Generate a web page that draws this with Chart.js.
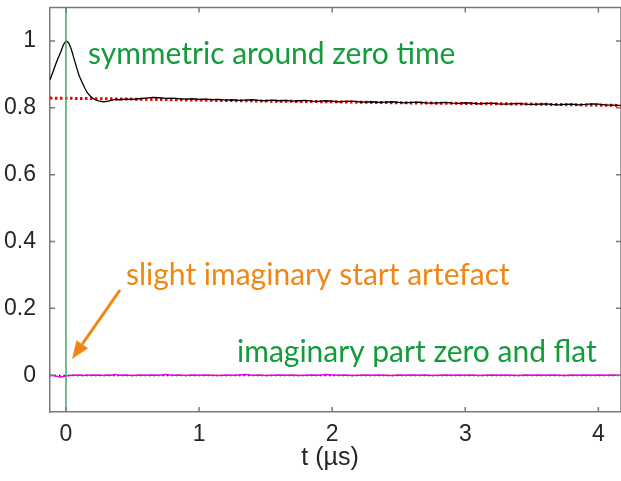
<!DOCTYPE html>
<html>
<head>
<meta charset="utf-8">
<script src="https://cdn.jsdelivr.net/npm/chart.js@4.4.1/dist/chart.umd.min.js"></script>
<style>
  html, body { margin: 0; padding: 0; background: #fff; }
  #wrap { width: 621px; height: 481px; }
</style>
</head>
<body>
<div id="wrap"><canvas id="chart" width="621" height="481"></canvas></div>
<script>
// time axis (µs) shared by the real and imaginary traces
const timeUs = [
    -0.12, -0.10, -0.08, -0.06, -0.04, -0.02, 0, 0.02, 0.04, 0.06, 0.08, 0.10, 0.12, 0.14, 0.16, 0.18,
    0.20, 0.22, 0.25, 0.28, 0.31, 0.34, 0.37, 0.40, 0.45, 0.50, 0.55, 0.60, 0.65, 0.70, 0.75, 0.80,
    0.85, 0.90, 0.95, 1.00, 1.05, 1.10, 1.15, 1.20, 1.25, 1.30, 1.35, 1.40, 1.45, 1.50, 1.55, 1.60,
    1.65, 1.70, 1.75, 1.80, 1.85, 1.90, 1.95, 2.00, 2.05, 2.10, 2.15, 2.20, 2.25, 2.30, 2.35, 2.40,
    2.45, 2.50, 2.55, 2.60, 2.65, 2.70, 2.75, 2.80, 2.85, 2.90, 2.95, 3.00, 3.05, 3.10, 3.15, 3.20,
    3.25, 3.30, 3.35, 3.40, 3.45, 3.50, 3.55, 3.60, 3.65, 3.70, 3.75, 3.80, 3.85, 3.90, 3.95, 4.00,
    4.05, 4.10, 4.15, 4.17
];

// real part (black)
const realPart = [
    0.884, 0.905, 0.927, 0.948, 0.966, 0.988, 1.000, 0.995, 0.975, 0.948, 0.920, 0.895, 0.877, 0.860, 0.845, 0.836,
    0.829, 0.824, 0.820, 0.818, 0.819, 0.822, 0.825, 0.824, 0.826, 0.825, 0.827, 0.829, 0.831, 0.830, 0.828, 0.829,
    0.827, 0.826, 0.827, 0.825, 0.826, 0.824, 0.825, 0.823, 0.824, 0.822, 0.823, 0.824, 0.822, 0.821, 0.823, 0.821,
    0.822, 0.820, 0.821, 0.822, 0.820, 0.819, 0.821, 0.820, 0.818, 0.819, 0.820, 0.818, 0.817, 0.818, 0.816, 0.817,
    0.818, 0.816, 0.815, 0.816, 0.817, 0.815, 0.814, 0.815, 0.816, 0.814, 0.813, 0.815, 0.814, 0.812, 0.813, 0.814,
    0.812, 0.811, 0.812, 0.813, 0.811, 0.810, 0.811, 0.812, 0.810, 0.809, 0.810, 0.811, 0.809, 0.810, 0.812, 0.811,
    0.809, 0.808, 0.807, 0.807
];

// imaginary part (magenta)
const imagPart = [
    0.000, -0.001, -0.002, -0.004, -0.005, -0.004, -0.002, -0.001, 0.000, 0.001, 0.000, 0.001, 0.000, -0.001, 0.001, 0.000,
    0.001, 0.000, 0.001, -0.001, 0.001, 0.000, 0.002, 0.000, 0.001, -0.001, 0.001, 0.000, 0.001, 0.000, 0.002, 0.000,
    0.001, -0.001, 0.001, 0.000, 0.001, 0.000, -0.001, 0.001, 0.000, 0.001, 0.002, 0.000, 0.001, -0.001, 0.000, 0.001,
    0.000, 0.001, -0.001, 0.000, 0.001, 0.000, 0.002, 0.001, 0.000, 0.001, -0.001, 0.000, 0.001, 0.000, 0.001, 0.000,
    -0.001, 0.001, 0.000, 0.001, 0.000, 0.001, -0.001, 0.000, 0.001, 0.000, 0.001, 0.000, 0.001, -0.001, 0.000, 0.001,
    0.000, 0.001, 0.000, -0.001, 0.001, 0.000, 0.001, 0.000, 0.001, 0.000, -0.001, 0.001, 0.000, 0.001, 0.000, 0.001,
    0.000, 0.001, 0.000, 0.000
];

// fitted baseline (red dotted)
const fitTime = [-0.12, 0.5, 1.0, 1.5, 2.0, 2.5, 3.0, 3.5, 4.0, 4.17];
const fitValue = [0.829, 0.826, 0.823, 0.820, 0.818, 0.815, 0.813, 0.811, 0.808, 0.807];

// zero reference (black dotted) and zero-time marker (green)
const zeroTime = [-0.12, 4.17];
const zeroValue = [-0.001, -0.001];
const markerTime = [0, 0];
const markerValue = [-0.11, 1.1];

const xTickValues = [0, 1, 2, 3, 4];
const yTickValues = [0, 0.2, 0.4, 0.6, 0.8, 1];

const pts = (xs, ys) => xs.map((x, i) => ({ x: x, y: ys[i] }));

const axisGray = '#7a7a7a';
const tickFont = { family: '"Liberation Sans", Arial, sans-serif', size: 23 };

// MATLAB-style box with inward ticks, plus the text notes
const frameAndNotes = {
    id: 'frameAndNotes',
    afterDraw(chart) {
        const ctx = chart.ctx;
        const a = chart.chartArea;
        const xs = chart.scales.x, ys = chart.scales.y;
        ctx.save();
        ctx.strokeStyle = axisGray;
        ctx.lineWidth = 1.5;
        ctx.beginPath();
        ctx.moveTo(a.left, a.top); ctx.lineTo(a.right, a.top);
        ctx.moveTo(a.right, a.top); ctx.lineTo(a.right, a.bottom);
        xTickValues.forEach(v => {
            const px = xs.getPixelForValue(v);
            ctx.moveTo(px, a.bottom); ctx.lineTo(px, a.bottom - 5);
            ctx.moveTo(px, a.top); ctx.lineTo(px, a.top + 5);
        });
        yTickValues.forEach(v => {
            const py = ys.getPixelForValue(v);
            ctx.moveTo(a.left, py); ctx.lineTo(a.left + 5, py);
            ctx.moveTo(a.right, py); ctx.lineTo(a.right - 5, py);
        });
        ctx.stroke();

        // x axis title
        ctx.fillStyle = '#262626';
        ctx.font = '25px "Liberation Sans", Arial, sans-serif';
        ctx.textAlign = 'center';
        ctx.textBaseline = 'alphabetic';
        ctx.fillText('t (µs)', 330, 465);

        // notes
        ctx.textAlign = 'left';
        ctx.font = '30px Lato, "Open Sans", sans-serif';
        ctx.fillStyle = 'rgb(20,155,60)';
        ctx.fillText('symmetric around zero time', 88, 64);
        ctx.fillText('imaginary part zero and flat', 237, 362);
        ctx.fillStyle = 'rgb(240,135,20)';
        ctx.fillText('slight imaginary start artefact', 126, 285);

        // arrow
        const x0 = 120, y0 = 290, x1 = 72, y1 = 359;
        const ang = Math.atan2(y1 - y0, x1 - x0);
        const head = 18, half = 7;
        const bx = x1 - head * Math.cos(ang), by = y1 - head * Math.sin(ang);
        ctx.strokeStyle = 'rgb(240,135,20)';
        ctx.lineWidth = 3;
        ctx.beginPath();
        ctx.moveTo(x0, y0); ctx.lineTo(bx, by);
        ctx.stroke();
        ctx.beginPath();
        ctx.moveTo(x1, y1);
        ctx.lineTo(bx + half * Math.sin(ang), by - half * Math.cos(ang));
        ctx.lineTo(bx - half * Math.sin(ang), by + half * Math.cos(ang));
        ctx.closePath();
        ctx.fill();
        ctx.restore();
    }
};

new Chart(document.getElementById('chart'), {
    type: 'line',
    data: {
        datasets: [
            {
                label: 'real',
                data: pts(timeUs, realPart),
                borderColor: '#000',
                borderWidth: 1.3,
                order: 2
            },
            {
                label: 'fit',
                data: pts(fitTime, fitValue),
                borderColor: 'rgb(240,0,0)',
                borderWidth: 3,
                borderDash: [2.5, 2.5],
                order: 3
            },
            {
                label: 'imag',
                data: pts(timeUs, imagPart),
                borderColor: 'rgb(230,0,230)',
                borderWidth: 1.5,
                order: 1
            },
            {
                label: 'zero',
                data: pts(zeroTime, zeroValue),
                borderColor: '#000',
                borderWidth: 1.5,
                borderDash: [1.5, 3],
                order: 4
            },
            {
                label: 'marker',
                data: pts(markerTime, markerValue),
                borderColor: 'rgb(70,170,100)',
                borderWidth: 1.5,
                order: 0
            }
        ]
    },
    options: {
        responsive: false,
        animation: false,
        layout: { padding: { top: 7.5, right: 0, left: 0, bottom: 0 } },
        elements: { point: { radius: 0 }, line: { tension: 0 } },
        plugins: { legend: { display: false }, tooltip: { enabled: false } },
        scales: {
            x: {
                type: 'linear',
                min: -0.12,
                max: 4.17,
                afterFit: s => { s.height = 69; s.paddingLeft = 0; s.paddingRight = 0; },
                afterBuildTicks: s => { s.ticks = xTickValues.map(v => ({ value: v })); },
                grid: { display: false },
                border: { display: true, color: axisGray, width: 1.5 },
                ticks: { color: '#262626', font: tickFont, padding: 1, maxRotation: 0 }
            },
            y: {
                type: 'linear',
                min: -0.11,
                max: 1.1,
                afterFit: s => { s.width = 50; s.paddingTop = 0; s.paddingBottom = 0; },
                afterBuildTicks: s => { s.ticks = yTickValues.map(v => ({ value: v })); },
                grid: { display: false },
                border: { display: true, color: axisGray, width: 1.5 },
                ticks: { color: '#262626', font: tickFont, padding: 6, callback: v => String(Math.round(v * 10) / 10) }
            }
        }
    },
    plugins: [frameAndNotes]
});
</script>
</body>
</html>
